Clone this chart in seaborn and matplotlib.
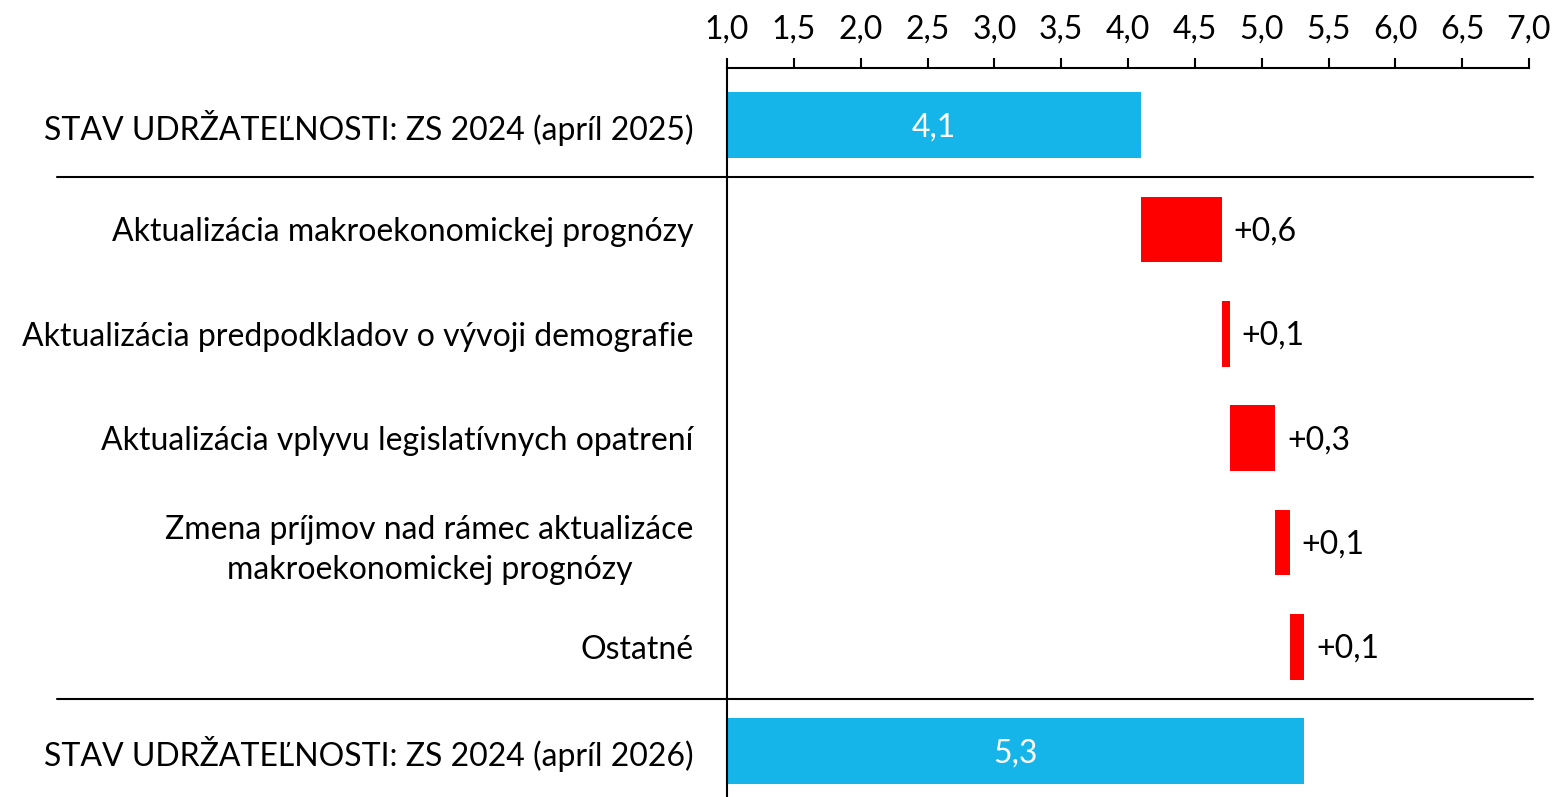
import numpy as np
import pandas as pd
import matplotlib
matplotlib.use("Agg")
import matplotlib.pyplot as plt
import seaborn as sns
from matplotlib.ticker import FuncFormatter, MultipleLocator

labels = [
    "STAV UDRŽATEĽNOSTI: ZS 2024 (apríl 2025)",
    "Aktualizácia makroekonomickej prognózy",
    "Aktualizácia predpodkladov o vývoji demografie",
    "Aktualizácia vplyvu legislatívnych opatrení",
    "Zmena príjmov nad rámec aktualizáce\nmakroekonomickej prognózy",
    "Ostatné",
    "STAV UDRŽATEĽNOSTI: ZS 2024 (apríl 2026)",
]
start_value = 4.10
deltas = [0.60, 0.06, 0.34, 0.11, 0.11]
end_value = 5.32

BLUE = "#15B5E9"
RED = "#FF0000"
FS = 23

sns.set_theme(style="white")
plt.rcParams["font.family"] = ["Lato", "DejaVu Sans"]

# build waterfall table
lefts = np.concatenate([[start_value], start_value + np.cumsum(deltas)[:-1]])
df = pd.DataFrame({
    "label": labels,
    "left": [1.0] + list(lefts) + [1.0],
    "width": [start_value - 1.0] + deltas + [end_value - 1.0],
    "kind": ["total"] + ["delta"] * len(deltas) + ["total"],
})
df["pos"] = np.arange(len(df))

fig = plt.figure(figsize=(15.56, 7.97), dpi=100)
ax = fig.add_axes([727 / 1556, 0, (1529 - 727) / 1556, 1 - 68 / 797])

colors = [BLUE if k == "total" else RED for k in df["kind"]]
ax.barh(df["pos"], df["width"], left=df["left"], height=0.63, color=colors, linewidth=0)

for _, r in df.iterrows():
    if r["kind"] == "total":
        ax.text(r["left"] + r["width"] / 2, r["pos"] + 0.02, f"{r['left'] + r['width']:.1f}".replace(".", ","),
                ha="center", va="center", color="white", fontsize=FS)
    else:
        ax.text(r["left"] + r["width"] + 0.09, r["pos"] + 0.02, "+" + f"{r['width']:.1f}".replace(".", ","),
                ha="left", va="center", color="black", fontsize=FS)

ax.set_xlim(1.0, 7.0)
ax.set_ylim(6.44, -0.547)
ax.xaxis.set_major_locator(MultipleLocator(0.5))
ax.xaxis.set_major_formatter(FuncFormatter(lambda v, p: f"{v:.1f}".replace(".", ",")))
ax.xaxis.tick_top()
ax.tick_params(axis="x", direction="out", length=7, width=1.5, color="black",
               labelsize=FS, pad=10, top=True, bottom=False, labelcolor="black")
ax.set_yticks(df["pos"])
ax.set_yticklabels(df["label"], fontsize=FS, multialignment="center", linespacing=1.4, color="black")
ax.tick_params(axis="y", length=0, pad=24)

for side in ["right", "bottom"]:
    ax.spines[side].set_visible(False)
for side in ["top", "left"]:
    ax.spines[side].set_color("black")
    ax.spines[side].set_linewidth(1.5)

# separators between totals and changes
for y in [0.5, 5.5]:
    ax.plot([-0.835, 1.005], [y, y], transform=ax.get_yaxis_transform(),
            color="black", linewidth=1.5, clip_on=False)

ax.set_xlabel("")
ax.set_ylabel("")
fig.savefig("out.png", dpi=100)
